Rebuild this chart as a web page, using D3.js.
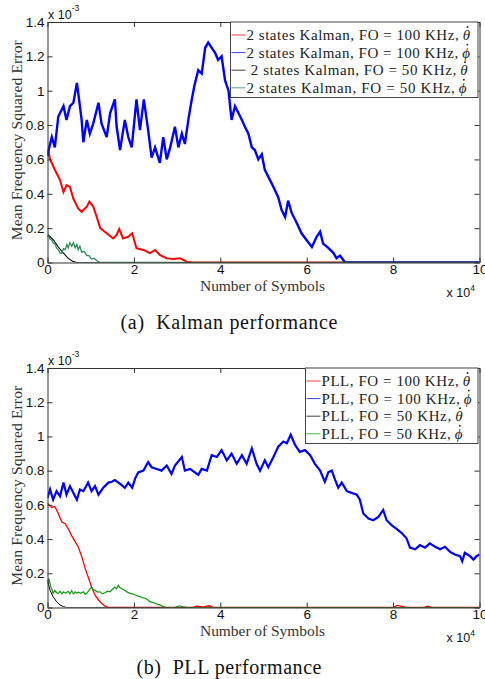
<!DOCTYPE html>
<html>
<head>
<meta charset="utf-8">
<script src="https://cdn.jsdelivr.net/npm/d3@7"></script>
<style>
  html, body { margin: 0; padding: 0; background: #fff; }
  svg { display: block; }
</style>
</head>
<body>
<div id="chart"></div>
<script>
// ---------- DATA (symbols in units of 1e4, error in units of 1e-3) ----------
const xTicks = [0, 2, 4, 6, 8, 10];
const yTicks = [0, 0.2, 0.4, 0.6, 0.8, 1, 1.2, 1.4];

// (a) Kalman
const kalTheta100X = [0,0.02,0.06,0.17,0.29,0.37,0.44,0.52,0.60,0.71,0.79,0.91,0.97,1.06,1.14,1.22,1.37,1.52,1.60,1.66,1.75,1.87,1.96,2.06,2.22,2.37,2.49,2.60,2.76,2.91,3.07,3.22,3.37,10];
const kalTheta100Y = [0.62,0.655,0.60,0.54,0.48,0.41,0.45,0.44,0.37,0.315,0.295,0.325,0.355,0.325,0.265,0.20,0.17,0.14,0.16,0.195,0.14,0.15,0.17,0.083,0.073,0.054,0.073,0.044,0.024,0.02,0.024,0.005,0,0];

const kalPhi100X = [0.00,0.02,0.10,0.17,0.25,0.37,0.44,0.52,0.60,0.68,0.71,0.79,0.83,0.91,0.98,1.06,1.18,1.25,1.37,1.45,1.56,1.60,1.68,1.79,1.87,1.95,2.06,2.14,2.23,2.33,2.41,2.49,2.60,2.68,2.76,2.84,2.95,3.03,3.11,3.18,3.26,3.34,3.41,3.49,3.57,3.65,3.72,3.80,3.88,3.95,4.03,4.11,4.19,4.26,4.34,4.42,4.50,4.57,4.65,4.73,4.80,4.88,4.96,5.03,5.11,5.23,5.34,5.42,5.50,5.57,5.65,5.77,5.88,6.00,6.12,6.23,6.31,6.38,6.50,6.62,6.69,6.77,6.89,10];
const kalPhi100Y = [0.62,0.65,0.73,0.67,0.85,0.91,0.83,0.91,0.93,1.045,0.99,0.83,0.70,0.83,0.75,0.81,0.93,0.81,0.73,0.87,0.95,0.79,0.655,0.83,0.73,0.67,0.95,0.77,0.95,0.77,0.61,0.67,0.58,0.73,0.60,0.67,0.79,0.67,0.75,0.69,0.83,0.95,1.04,1.12,1.10,1.25,1.28,1.25,1.22,1.18,1.20,1.06,1.00,0.83,0.91,0.87,0.83,0.79,0.75,0.67,0.655,0.60,0.63,0.54,0.50,0.44,0.38,0.305,0.265,0.36,0.29,0.23,0.17,0.13,0.09,0.15,0.18,0.11,0.085,0.055,0.025,0.04,0,0];

const kalTheta50X = [0,0.02,0.14,0.25,0.37,0.48,0.60,0.68,10];
const kalTheta50Y = [0.15,0.16,0.13,0.09,0.054,0.024,0.005,0,0];

const kalPhi50X = [0,0.02,0.06,0.10,0.14,0.17,0.21,0.25,0.29,0.33,0.37,0.41,0.45,0.48,0.52,0.56,0.60,0.64,0.68,0.71,0.75,0.79,0.85,0.91,0.96,1.02,1.08,1.14,1.22,10];
const kalPhi50Y = [0.15,0.16,0.135,0.13,0.11,0.11,0.085,0.075,0.055,0.054,0.08,0.075,0.105,0.085,0.115,0.095,0.115,0.085,0.105,0.075,0.095,0.06,0.065,0.04,0.04,0.02,0.025,0.01,0,0];

// (b) PLL
const pllTheta100X = [0,0.10,0.17,0.25,0.33,0.41,0.48,0.56,0.64,0.71,0.79,0.87,0.94,1.02,1.10,1.18,1.25,1.33,1.41,3.35,3.45,3.60,3.75,3.85,8.00,8.10,8.20,8.30,8.70,8.80,8.90,10];
const pllTheta100Y = [0.61,0.585,0.59,0.55,0.50,0.49,0.46,0.42,0.385,0.355,0.30,0.23,0.18,0.12,0.073,0.044,0.025,0.009,0,0,0.008,0.004,0.01,0,0,0.012,0.006,0,0,0.008,0,0];

const pllPhi100X = [0.0,0.06,0.13,0.21,0.29,0.37,0.44,0.52,0.60,0.68,0.75,0.83,0.94,1.02,1.10,1.18,1.29,1.41,1.49,1.56,1.64,1.72,1.79,1.87,1.96,2.03,2.10,2.22,2.33,2.41,2.53,2.64,2.76,2.87,2.95,3.11,3.18,3.30,3.41,3.49,3.57,3.69,3.80,3.92,4.03,4.15,4.26,4.38,4.50,4.61,4.73,4.84,4.92,5.03,5.11,5.23,5.34,5.46,5.54,5.63,5.73,5.84,5.96,6.08,6.19,6.31,6.42,6.50,6.58,6.66,6.73,6.81,6.93,7.04,7.16,7.23,7.31,7.43,7.54,7.66,7.77,7.85,7.97,8.08,8.20,8.31,8.39,8.51,8.62,8.74,8.85,8.97,9.09,9.20,9.32,9.43,9.55,9.60,9.66,9.78,9.86,9.93,10.0];
const pllPhi100Y = [0.64,0.69,0.63,0.68,0.65,0.73,0.66,0.71,0.67,0.63,0.69,0.68,0.73,0.68,0.71,0.66,0.70,0.73,0.735,0.745,0.73,0.715,0.70,0.73,0.70,0.755,0.79,0.80,0.85,0.82,0.81,0.80,0.83,0.78,0.83,0.88,0.80,0.81,0.79,0.775,0.81,0.80,0.89,0.88,0.92,0.86,0.90,0.84,0.89,0.84,0.93,0.84,0.80,0.86,0.82,0.88,0.94,0.97,0.96,1.01,0.95,0.91,0.92,0.89,0.84,0.80,0.735,0.79,0.80,0.745,0.70,0.73,0.68,0.67,0.66,0.63,0.55,0.52,0.51,0.53,0.57,0.51,0.48,0.46,0.435,0.405,0.35,0.34,0.365,0.35,0.375,0.355,0.34,0.355,0.325,0.31,0.30,0.27,0.32,0.30,0.28,0.30,0.31];

const pllTheta50X = [0,0.06,0.13,0.21,0.29,0.37,0.44,10];
const pllTheta50Y = [0.16,0.10,0.063,0.034,0.015,0.005,0,0];

const pllPhi50X = [0,0.03,0.08,0.13,0.17,0.21,0.25,0.29,0.33,0.37,0.42,0.48,0.52,0.56,0.60,0.64,0.68,0.71,0.77,0.83,0.87,0.91,0.96,1.02,1.06,1.10,1.16,1.22,1.27,1.33,1.39,1.45,1.50,1.56,1.60,1.64,1.68,1.72,1.79,1.85,1.91,1.97,2.03,2.08,2.14,2.20,2.26,2.32,2.37,2.43,2.49,2.55,2.60,2.68,2.76,2.95,3.05,3.15,3.25,10];
const pllPhi50Y = [0.14,0.17,0.12,0.083,0.10,0.085,0.083,0.095,0.08,0.092,0.083,0.095,0.08,0.098,0.079,0.092,0.083,0.09,0.083,0.092,0.078,0.083,0.10,0.12,0.105,0.10,0.09,0.092,0.08,0.086,0.095,0.092,0.105,0.12,0.11,0.13,0.115,0.11,0.10,0.09,0.083,0.08,0.073,0.068,0.063,0.058,0.054,0.045,0.034,0.03,0.025,0.018,0.015,0.005,0,0,0.01,0.004,0,0];

const kalLabels = ["2 states Kalman, FO = 100 KHz,", "2 states Kalman, FO = 100 KHz,", " 2 states Kalman, FO = 50 KHz,", "2 states Kalman, FO = 50 KHz,"];
const pllLabels = ["PLL, FO = 100 KHz,", "PLL, FO = 100 KHz,", "PLL, FO = 50 KHz,", "PLL, FO = 50 KHz,"];
const symbolsVar = ["θ", "ϕ", "θ", "ϕ"];
const captions = ["(a)  Kalman performance", "(b)  PLL performance"];

// ---------- LAYOUT ----------
const W = 485, H = 679;
const colors = ["#ff0000", "#0000ff", "#000000"];
const svg = d3.select("#chart").append("svg").attr("width", W).attr("height", H);
svg.append("rect").attr("width", W).attr("height", H).attr("fill", "#fff");

const serif = "'Liberation Serif', 'Times New Roman', serif";
const sans = "'Liberation Sans', Arial, sans-serif";

function measure(str, fs, italic) {
  const t = svg.append("text").attr("font-family", serif).attr("font-size", fs)
    .attr("font-style", italic ? "italic" : "normal").text(str);
  const w = t.node().getComputedTextLength();
  t.remove();
  return w;
}

function panel(opts) {
  const { top, bottom, series, labels, legendLeft, legendLineW, rowEnds, caption, capW, idx } = opts;
  const left = 47.5, right = 479.5;
  const x = d3.scaleLinear().domain([0, 10]).range([left, right]);
  const y = d3.scaleLinear().domain([0, 1.4]).range([bottom, top]);
  const g = svg.append("g");
  const clipId = "clip" + idx;
  g.append("clipPath").attr("id", clipId).append("rect")
    .attr("x", left).attr("y", top - 2).attr("width", right - left).attr("height", bottom - top + 2);

  const line = d3.line().x(d => x(d[0])).y(d => y(d[1]));
  const plot = g.append("g").attr("clip-path", `url(#${clipId})`);
  series.forEach(s => {
    const pts = s.xs.map((v, i) => [v, s.ys[i]]);
    plot.append("path").attr("d", line(pts)).attr("fill", "none")
      .attr("stroke", s.color).attr("stroke-width", s.w).attr("stroke-linejoin", "miter");
  });

  // axes (MATLAB box with inward ticks)
  const axStyle = sel => {
    sel.selectAll(".domain").attr("stroke", "#333").attr("stroke-width", 1);
    sel.selectAll(".tick line").attr("stroke", "#333");
    sel.selectAll("text").attr("font-family", sans).attr("font-size", 13.5).attr("fill", "#111");
  };
  g.append("g").attr("transform", `translate(0,${bottom})`)
    .call(d3.axisBottom(x).tickValues(xTicks).tickSizeInner(-5).tickSizeOuter(0).tickPadding(2).tickFormat(d3.format("d")))
    .call(axStyle);
  g.append("g").attr("transform", `translate(0,${top})`)
    .call(d3.axisTop(x).tickValues(xTicks).tickSizeInner(-5).tickSizeOuter(0).tickFormat(""))
    .call(axStyle);
  g.append("g").attr("transform", `translate(${left},0)`)
    .call(d3.axisLeft(y).tickValues(yTicks).tickSizeInner(-5).tickSizeOuter(0).tickPadding(3).tickFormat(d => String(+d.toFixed(1))))
    .call(axStyle);
  g.append("g").attr("transform", `translate(${right},0)`)
    .call(d3.axisRight(y).tickValues(yTicks).tickSizeInner(-5).tickSizeOuter(0).tickFormat(""))
    .call(axStyle);

  // exponent labels
  const e1 = g.append("text").attr("x", 48).attr("y", top - 3).attr("font-family", sans).attr("font-size", 12.5).attr("fill", "#111");
  e1.append("tspan").text("x 10");
  e1.append("tspan").attr("dy", -8).attr("font-size", 8.5).text("-3");
  const e2 = g.append("text").attr("x", 446.5).attr("y", bottom + 34).attr("font-family", sans).attr("font-size", 12.5).attr("fill", "#111");
  e2.append("tspan").text("x 10");
  e2.append("tspan").attr("dy", -6).attr("font-size", 8.5).text("4");

  // axis titles
  g.append("text").attr("x", 262.5).attr("y", bottom + 28).attr("text-anchor", "middle")
    .attr("font-family", serif).attr("font-size", 15.5).attr("fill", "#333")
    .attr("textLength", 125).attr("lengthAdjust", "spacing").text("Number of Symbols");
  g.append("text").attr("transform", `translate(22,${(top + bottom) / 2 - 2}) rotate(-90)`).attr("text-anchor", "middle")
    .attr("font-family", serif).attr("font-size", 15.5).attr("fill", "#333")
    .attr("textLength", 200).attr("lengthAdjust", "spacing").text("Mean Frequency Squared Error");

  // legend
  const lg = g.append("g");
  const boxH = 75.5;
  lg.append("rect").attr("x", legendLeft).attr("y", top).attr("width", right - 1.5 - legendLeft).attr("height", boxH)
    .attr("fill", "#fff").attr("stroke", "#444").attr("stroke-width", 1);
  const fs = 15;
  series.forEach((s, i) => {
    const cy = top + 13 + 17.6 * i;
    const base = cy + 5;
    lg.append("line").attr("x1", legendLeft + 1).attr("x2", legendLeft + legendLineW).attr("y1", cy).attr("y2", cy)
      .attr("stroke", s.color).attr("stroke-width", 1).attr("opacity", 0.75);
    const symW = measure(symbolsVar[i], fs, true);
    const symX = rowEnds[i] - symW;
    const x0 = legendLeft + legendLineW + 1;
    const t = lg.append("text").attr("x", x0).attr("y", base)
      .attr("font-family", serif).attr("font-size", fs).attr("fill", "#222").attr("xml:space", "preserve");
    t.append("tspan").attr("textLength", symX - 4 - x0).attr("lengthAdjust", "spacing").text(labels[i]);
    t.append("tspan").attr("x", symX).attr("font-style", "italic").text(symbolsVar[i]);
    // time-derivative dot accent
    lg.append("circle").attr("cx", symX + symW / 2 + 1.2).attr("cy", base - 13).attr("r", 0.95).attr("fill", "#222");
  });

  // caption
  svg.append("text").attr("x", 229).attr("y", bottom + 66).attr("text-anchor", "middle")
    .attr("font-family", serif).attr("font-size", 20).attr("fill", "#111").attr("xml:space", "preserve")
    .attr("textLength", capW).attr("lengthAdjust", "spacing").text(caption);
}

panel({
  idx: 0, top: 22, bottom: 262.5, legendLeft: 230.5, legendLineW: 15,
  rowEnds: [470, 470, 467.5, 466.5],
  labels: kalLabels, caption: captions[0], capW: 217,
  series: [
    { xs: kalTheta100X, ys: kalTheta100Y, color: colors[0], w: 2.0 },
    { xs: kalPhi100X, ys: kalPhi100Y, color: colors[1], w: 2.4 },
    { xs: kalTheta50X, ys: kalTheta50Y, color: colors[2], w: 1.1 },
    { xs: kalPhi50X, ys: kalPhi50Y, color: "#2e8b57", w: 1.3 }
  ]
});
panel({
  idx: 1, top: 368, bottom: 607.5, legendLeft: 305.5, legendLineW: 15,
  rowEnds: [470, 471.5, 462.5, 462.5],
  labels: pllLabels, caption: captions[1], capW: 185,
  series: [
    { xs: pllTheta100X, ys: pllTheta100Y, color: colors[0], w: 1.3 },
    { xs: pllPhi100X, ys: pllPhi100Y, color: colors[1], w: 2.2 },
    { xs: pllTheta50X, ys: pllTheta50Y, color: colors[2], w: 1.0 },
    { xs: pllPhi50X, ys: pllPhi50Y, color: "#119911", w: 1.2 }
  ]
});
</script>
</body>
</html>
